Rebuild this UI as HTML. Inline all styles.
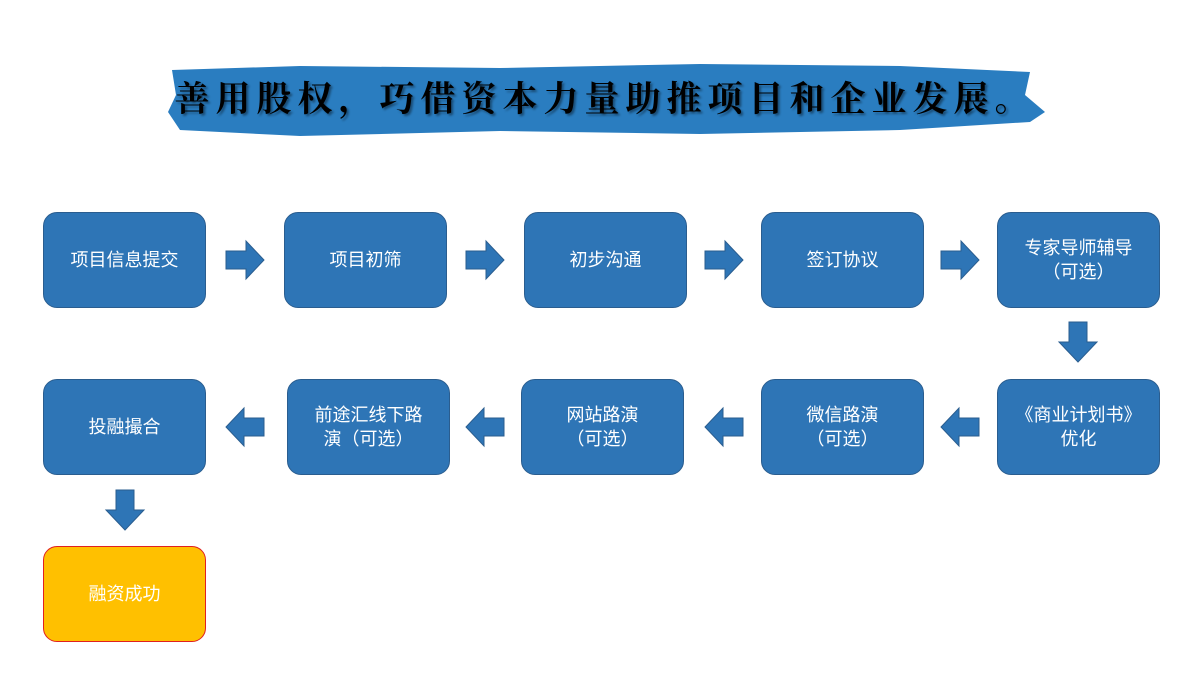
<!DOCTYPE html>
<html><head><meta charset="utf-8"><style>
body{margin:0;width:1200px;height:675px;background:#fff;position:relative;overflow:hidden;font-family:"Liberation Sans","Noto Sans CJK SC",sans-serif}
.b{position:absolute;width:163px;height:96px;background:#2e75b6;border:1px solid #2a5d8f;border-radius:14px;color:#fff;font-size:18px;display:flex;align-items:center;justify-content:center;text-align:center;line-height:24px;box-sizing:border-box}
svg{position:absolute;left:0;top:0}
.t{position:absolute;left:165px;top:72px;width:880px;text-align:center;font-family:"Noto Serif CJK SC","WenQuanYi Zen Hei",serif;font-weight:700;font-size:35px;letter-spacing:6px;color:#000;text-shadow:2px 2px 2px rgba(0,0,0,.4)}
</style></head><body>
<svg width="1200" height="675">
<path d="M172 70 L300 66 L500 68 L700 64 L900 66 L1030 72 L1025 95 L1045 112 L1030 122 L900 130 L700 134 L500 131 L300 136 L180 130 L168 112 L176 95 Z" fill="#2a7dc0"/>
<g fill="#2e75b6" stroke="#2a5d8f" stroke-width="1">
<path d="M226 251h20v-10l18 19-18 19v-10h-20z"/>
<path d="M466 251h20v-10l18 19-18 19v-10h-20z"/>
<path d="M705 251h20v-10l18 19-18 19v-10h-20z"/>
<path d="M941 251h20v-10l18 19-18 19v-10h-20z"/>
<path d="M1069 322h18v20h10l-19 20-19-20h10z"/>
<path d="M979 418h-20v-10l-18 19 18 19v-10h20z"/>
<path d="M743 418h-20v-10l-18 19 18 19v-10h20z"/>
<path d="M504 418h-20v-10l-18 19 18 19v-10h20z"/>
<path d="M264 418h-20v-10l-18 19 18 19v-10h20z"/>
<path d="M116 490h18v20h10l-19 20-19-20h10z"/>
</g></svg>
<div class="t">善用股权，巧借资本力量助推项目和企业发展。</div>
<div class="b" style="left:43px;top:212px">项目信息提交</div>
<div class="b" style="left:284px;top:212px">项目初筛</div>
<div class="b" style="left:524px;top:212px">初步沟通</div>
<div class="b" style="left:761px;top:212px">签订协议</div>
<div class="b" style="left:997px;top:212px">专家导师辅导<br>（可选）</div>
<div class="b" style="left:43px;top:379px">投融撮合</div>
<div class="b" style="left:287px;top:379px">前途汇线下路<br>演（可选）</div>
<div class="b" style="left:521px;top:379px">网站路演<br>（可选）</div>
<div class="b" style="left:761px;top:379px">微信路演<br>（可选）</div>
<div class="b" style="left:997px;top:379px">《商业计划书》<br>优化</div>
<div class="b" style="left:43px;top:546px;background:#ffc000;border-color:#e02020">融资成功</div>
</body></html>
